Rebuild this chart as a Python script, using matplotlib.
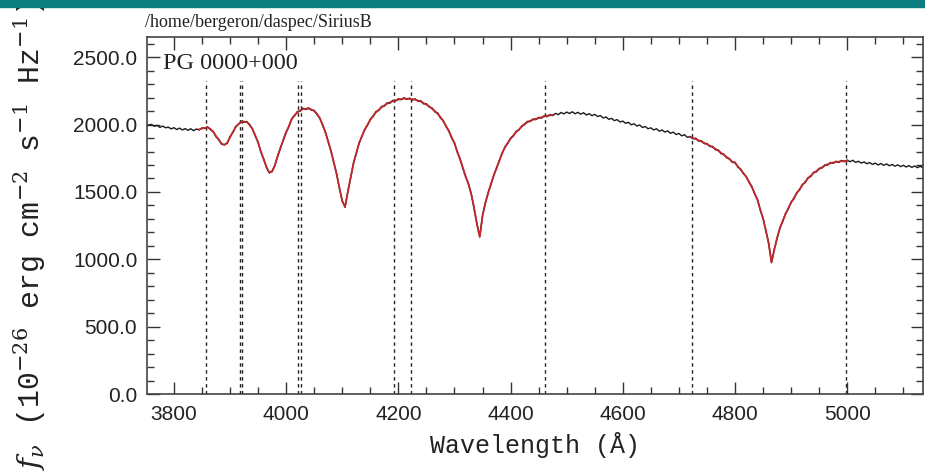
import numpy as np
import matplotlib
matplotlib.use("Agg")
import matplotlib.pyplot as plt
from matplotlib.patches import Rectangle
from matplotlib.ticker import MultipleLocator, FormatStrFormatter

# wavelength grid (Angstrom), 5 A steps
wave = np.arange(3750, 5141, 5)

obs_flux = [
    2004, 1996, 2001, 1987, 1994, 1979, 1989, 1976, 1981, 1968,
    1977, 1963, 1974, 1960, 1970, 1957, 1969, 1955, 1967, 1960,
    1976, 1971, 1984, 1963, 1950, 1909, 1890, 1853, 1852, 1860,
    1911, 1940, 1986, 2001, 2025, 2016, 2023, 1994, 1970, 1914,
    1870, 1795, 1746, 1680, 1640, 1656, 1695, 1771, 1825, 1890,
    1946, 1985, 2046, 2064, 2097, 2099, 2122, 2111, 2125, 2106,
    2106, 2074, 2051, 1994, 1946, 1869, 1806, 1714, 1636, 1524,
    1436, 1386, 1506, 1604, 1716, 1784, 1866, 1909, 1966, 1994,
    2041, 2059, 2097, 2104, 2135, 2136, 2162, 2158, 2180, 2174,
    2192, 2184, 2199, 2186, 2197, 2181, 2191, 2172, 2177, 2153,
    2155, 2129, 2124, 2094, 2087, 2049, 2031, 1984, 1956, 1899,
    1866, 1794, 1746, 1674, 1616, 1554, 1486, 1374, 1266, 1170,
    1326, 1414, 1496, 1554, 1626, 1674, 1736, 1784, 1836, 1859,
    1901, 1914, 1951, 1959, 1991, 1999, 2024, 2022, 2042, 2036,
    2054, 2047, 2066, 2058, 2075, 2066, 2083, 2074, 2090, 2079,
    2093, 2082, 2095, 2080, 2091, 2077, 2088, 2071, 2081, 2066,
    2076, 2060, 2067, 2049, 2056, 2039, 2046, 2029, 2037, 2019,
    2026, 2009, 2017, 1998, 2006, 1989, 1997, 1978, 1986, 1969,
    1976, 1960, 1969, 1951, 1960, 1944, 1953, 1935, 1944, 1926,
    1934, 1916, 1925, 1905, 1912, 1894, 1899, 1877, 1880, 1858,
    1860, 1837, 1839, 1813, 1812, 1784, 1781, 1753, 1748, 1719,
    1721, 1684, 1671, 1634, 1616, 1569, 1541, 1484, 1446, 1364,
    1306, 1209, 1121, 979, 1076, 1154, 1236, 1279, 1341, 1374,
    1426, 1449, 1496, 1514, 1556, 1569, 1606, 1614, 1646, 1649,
    1676, 1677, 1701, 1699, 1719, 1712, 1728, 1719, 1734, 1724,
    1737, 1724, 1735, 1719, 1728, 1714, 1723, 1709, 1718, 1704,
    1714, 1700, 1711, 1697, 1708, 1694, 1704, 1691, 1701, 1688,
    1698, 1685, 1696, 1682, 1693, 1680, 1691, 1678, 1689,
]

# smooth model fit
model_flux = [
    2000, 1998, 1995, 1992, 1990, 1986, 1983, 1980, 1976, 1973,
    1972, 1970, 1968, 1966, 1965, 1964, 1963, 1962, 1962, 1964,
    1970, 1976, 1978, 1968, 1945, 1915, 1885, 1858, 1848, 1865,
    1905, 1945, 1980, 2005, 2018, 2022, 2018, 2000, 1965, 1920,
    1865, 1800, 1740, 1685, 1645, 1650, 1700, 1765, 1830, 1885,
    1940, 1990, 2040, 2070, 2090, 2105, 2115, 2118, 2118, 2112,
    2100, 2080, 2045, 2000, 1940, 1875, 1800, 1720, 1630, 1530,
    1430, 1390, 1500, 1610, 1710, 1790, 1860, 1915, 1960, 2000,
    2035, 2065, 2090, 2110, 2128, 2142, 2155, 2165, 2173, 2180,
    2185, 2190, 2192, 2192, 2190, 2188, 2185, 2178, 2170, 2160,
    2148, 2135, 2118, 2100, 2080, 2055, 2025, 1990, 1950, 1905,
    1860, 1800, 1740, 1680, 1610, 1560, 1480, 1380, 1260, 1165,
    1320, 1420, 1490, 1560, 1620, 1680, 1730, 1790, 1830, 1865,
    1895, 1920, 1945, 1965, 1985, 2005, 2018, 2028, 2036, 2042,
    2048, 2054, 2060, 2064, 2068, 2072, 2076, 2080, 2083, 2085,
    2087, 2088, 2088, 2087, 2085, 2083, 2081, 2078, 2075, 2072,
    2070, 2066, 2060, 2055, 2050, 2045, 2040, 2035, 2030, 2025,
    2020, 2015, 2010, 2005, 2000, 1995, 1990, 1985, 1980, 1975,
    1970, 1966, 1962, 1958, 1954, 1950, 1946, 1942, 1937, 1932,
    1928, 1922, 1918, 1912, 1906, 1900, 1892, 1884, 1874, 1864,
    1854, 1843, 1832, 1820, 1806, 1790, 1775, 1760, 1742, 1725,
    1715, 1690, 1665, 1640, 1610, 1575, 1535, 1490, 1440, 1370,
    1300, 1215, 1115, 975, 1070, 1160, 1230, 1285, 1335, 1380,
    1420, 1455, 1490, 1520, 1550, 1575, 1600, 1620, 1640, 1655,
    1670, 1683, 1695, 1705, 1713, 1718, 1722, 1725, 1728, 1730,
    1731, 1730, 1728, 1725, 1722, 1720, 1717, 1715, 1712, 1710,
    1708, 1706, 1705, 1703, 1702, 1700, 1698, 1697, 1695, 1694,
    1692, 1691, 1690, 1688, 1687, 1686, 1685, 1684, 1683,
]

# wavelength windows where the model is shown
fit_lo = [3845, 4720]
fit_hi = [4475, 5000]

# dashed line-window markers
marker_waves = [3858, 3918, 3922, 4021, 4027, 4193, 4222, 4462, 4723, 4997]

fig = plt.figure(figsize=(9.25, 4.72), dpi=100)
fig.patches.append(Rectangle((0, 1 - 7 / 472), 1, 7 / 472, transform=fig.transFigure,
                             color="#0b7f80", zorder=10))

ax = fig.add_axes([147 / 925, 1 - 394 / 472, 776 / 925, 357 / 472])

wave_arr = np.array(wave)
model = np.array(model_flux, dtype=float)
mask = np.zeros(len(wave_arr), dtype=bool)
for lo, hi in zip(fit_lo, fit_hi):
    mask |= (wave_arr >= lo) & (wave_arr <= hi)
model[~mask] = np.nan

ax.plot(wave_arr, obs_flux, color="#1a1a1a", lw=1.0, zorder=2)
ax.plot(wave_arr, model, color="#c0282d", lw=1.3, zorder=3)
ax.vlines(marker_waves, 0, 2320, colors="#222222", linestyles=(0, (2.5, 2.5)), lw=1.0, zorder=1)

ax.set_xlim(3752, 5135)
ax.set_ylim(0, 2650)

ax.xaxis.set_major_locator(MultipleLocator(200))
ax.xaxis.set_minor_locator(MultipleLocator(50))
ax.yaxis.set_major_locator(MultipleLocator(500))
ax.yaxis.set_minor_locator(MultipleLocator(100))
ax.yaxis.set_major_formatter(FormatStrFormatter("%.1f"))
ax.tick_params(which="both", direction="in", top=True, right=True, colors="#333333")
ax.tick_params(which="major", length=9, width=1.0, labelsize=15, labelcolor="#222222")
ax.tick_params(which="minor", length=5, width=1.0)
ax.tick_params(axis="x", pad=8)
ax.tick_params(axis="y", pad=7)
for lab in ax.get_xticklabels() + ax.get_yticklabels():
    lab.set_family("Liberation Sans")
for sp in ax.spines.values():
    sp.set_color("#444444")
    sp.set_linewidth(1.2)

ax.set_xlabel("Wavelength (Å)", family="Liberation Mono", fontsize=18, color="#222222", labelpad=6)

plt.rcParams["mathtext.fontset"] = "dejavuserif"
fig.text(30 / 925, 2 / 472,
         r"$f_\nu$ (10$^{-26}$ erg cm$^{-2}$ s$^{-1}$ Hz$^{-1}$)",
         rotation=90, ha="center", va="bottom", family="Liberation Mono",
         fontsize=21.5, color="#222222")

fig.text(145 / 925, 1 - 27 / 472, "/home/bergeron/daspec/SiriusB",
         family="Liberation Serif", fontsize=13, color="#222222")
fig.text(163 / 925, 1 - 69 / 472, "PG 0000+000", family="Liberation Serif",
         fontsize=17.5, color="#222222")

fig.savefig("out.png", dpi=100)
